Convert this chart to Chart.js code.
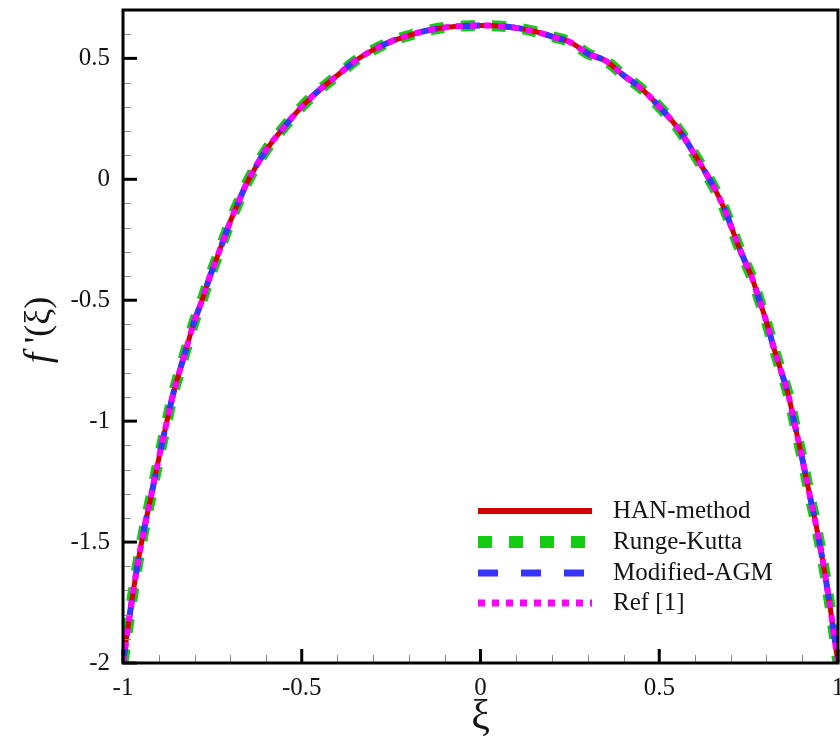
<!DOCTYPE html>
<html>
<head>
<meta charset="utf-8">
<script src="https://cdn.jsdelivr.net/npm/chart.js@4.4.1/dist/chart.umd.min.js"></script>
<style>
  html, body { margin: 0; padding: 0; background: #fff; }
  #wrap { width: 840px; height: 745px; }
</style>
</head>
<body>
<div id="wrap"><canvas id="chart" width="840" height="745"></canvas></div>
<script>
// --- data ---
const xi = [-1, -0.98, -0.96, -0.94, -0.92, -0.9, -0.88, -0.86, -0.84, -0.82, -0.8, -0.78, -0.76, -0.74, -0.72, -0.7, -0.68, -0.65,
            -0.6, -0.55, -0.5, -0.45, -0.4, -0.35, -0.3, -0.25, -0.2, -0.15, -0.1, -0.05, 0,
            0.05, 0.1, 0.15, 0.2, 0.25, 0.3, 0.35, 0.4, 0.45, 0.5, 0.55, 0.6,
            0.65, 0.68, 0.7, 0.72, 0.74, 0.76, 0.78, 0.8, 0.82, 0.84, 0.86, 0.88, 0.9, 0.92, 0.94, 0.96, 0.98, 1];
const fPrime = [-2.0, -1.79, -1.6, -1.44, -1.3, -1.155, -1.02, -0.89, -0.785, -0.685, -0.585, -0.505, -0.415, -0.335, -0.255, -0.175, -0.105, -0.005,
                0.12, 0.215, 0.3, 0.37, 0.43, 0.49, 0.535, 0.57, 0.595, 0.615, 0.628, 0.634, 0.636,
                0.634, 0.626, 0.612, 0.59, 0.568, 0.52, 0.49, 0.43, 0.375, 0.3, 0.215, 0.1,
                -0.025, -0.115, -0.19, -0.27, -0.34, -0.41, -0.5, -0.59, -0.695, -0.79, -0.885, -1.02, -1.155, -1.3, -1.44, -1.6, -1.79, -2.0];
// the four methods overlap on the plot
const hanMethod = fPrime;
const rungeKutta = fPrime;
const modifiedAgm = fPrime;
const ref1 = fPrime;

const seriesNames = ['HAN-method', 'Runge-Kutta', 'Modified-AGM', 'Ref [1]'];
const xTicks = [-1, -0.5, 0, 0.5, 1];
const yTicks = [-2, -1.5, -1, -0.5, 0, 0.5];

const COLORS = {
    han: '#d40000',
    rk: '#14cc14',
    agm: '#3535ff',
    ref: '#ff00ff',
    axis: '#000000',
    text: '#141414'
};
const STYLES = [
    { color: COLORS.rk,  width: 11, dash: [14, 17] },
    { color: COLORS.han, width: 5,  dash: [] },
    { color: COLORS.agm, width: 6,  dash: [20, 23] },
    { color: COLORS.ref, width: 6,  dash: [7, 7] }
];
const SERIF = '"Liberation Serif", "DejaVu Serif", serif';

const toPoints = (ys) => xi.map((x, i) => ({ x, y: ys[i] }));

// frame, inward ticks, legend and y-title
const decorations = {
    id: 'decorations',
    afterDatasetsDraw(chart) {
        const { ctx, chartArea: a, scales: { x, y } } = chart;
        ctx.save();
        // minor ticks
        ctx.strokeStyle = '#8a8a8a';
        ctx.lineWidth = 1;
        for (let v = -1; v <= 1.0001; v += 0.1) {
            const px = Math.round(x.getPixelForValue(v)) + 0.5;
            ctx.beginPath(); ctx.moveTo(px, a.bottom); ctx.lineTo(px, a.bottom - 8); ctx.stroke();
        }
        for (let v = -2; v <= 0.7001; v += 0.1) {
            const py = Math.round(y.getPixelForValue(v)) + 0.5;
            ctx.beginPath(); ctx.moveTo(a.left, py); ctx.lineTo(a.left + 8, py); ctx.stroke();
        }
        // major ticks
        ctx.strokeStyle = COLORS.axis;
        ctx.lineWidth = 3;
        xTicks.forEach(v => {
            const px = x.getPixelForValue(v);
            ctx.beginPath(); ctx.moveTo(px, a.bottom); ctx.lineTo(px, a.bottom - 14); ctx.stroke();
        });
        yTicks.forEach(v => {
            const py = y.getPixelForValue(v);
            ctx.beginPath(); ctx.moveTo(a.left, py); ctx.lineTo(a.left + 14, py); ctx.stroke();
        });
        // frame
        ctx.lineWidth = 3;
        ctx.strokeRect(a.left, a.top, a.right - a.left, a.bottom - a.top);

        // legend
        const lx0 = 478, lx1 = 592, rows = [511, 542, 573, 603];
        const legendStyles = [STYLES[1], STYLES[0], STYLES[2], STYLES[3]];
        legendStyles.forEach((s, i) => {
            ctx.beginPath();
            ctx.strokeStyle = s.color;
            ctx.lineWidth = s.width + 1;
            ctx.lineCap = 'butt';
            ctx.setLineDash(s.dash);
            ctx.moveTo(lx0, rows[i]); ctx.lineTo(lx1, rows[i]);
            ctx.stroke();
        });
        ctx.setLineDash([]);
        ctx.fillStyle = COLORS.text;
        ctx.font = '25px ' + SERIF;
        ctx.textAlign = 'left';
        ctx.textBaseline = 'middle';
        seriesNames.forEach((name, i) => ctx.fillText(name, 613, rows[i]));

        // y title: f '(ξ)
        ctx.translate(40, 330);
        ctx.rotate(-Math.PI / 2);
        const italic = 'italic 38px ' + SERIF;
        const normal = '36px ' + SERIF;
        ctx.font = italic;
        const w1 = ctx.measureText('f ').width;
        ctx.font = normal;
        const w2 = ctx.measureText("'(ξ)").width;
        let tx = -(w1 + w2) / 2;
        ctx.textBaseline = 'middle';
        ctx.font = italic;
        ctx.fillText('f ', tx, 0);
        ctx.font = normal;
        ctx.fillText("'(ξ)", tx + w1, 0);
        ctx.restore();
    }
};

const datasets = [
    { label: seriesNames[3], data: toPoints(ref1), order: 0, style: STYLES[3] },
    { label: seriesNames[2], data: toPoints(modifiedAgm), order: 1, style: STYLES[2] },
    { label: seriesNames[0], data: toPoints(hanMethod), order: 2, style: STYLES[1] },
    { label: seriesNames[1], data: toPoints(rungeKutta), order: 3, style: STYLES[0] }
].map(d => ({
    label: d.label,
    data: d.data,
    order: d.order,
    borderColor: d.style.color,
    backgroundColor: d.style.color,
    borderWidth: d.style.width,
    borderDash: d.style.dash,
    borderCapStyle: 'butt',
    pointRadius: 0,
    tension: 0.35,
    fill: false
}));

new Chart(document.getElementById('chart').getContext('2d'), {
    type: 'line',
    data: { datasets },
    plugins: [decorations],
    options: {
        responsive: false,
        animation: false,
        layout: { padding: { top: 10, right: 2, left: 0, bottom: 0 } },
        plugins: { legend: { display: false }, tooltip: { enabled: false } },
        scales: {
            x: {
                type: 'linear',
                min: -1, max: 1,
                grid: { display: false },
                border: { display: false },
                afterBuildTicks: (s) => { s.ticks = xTicks.map(v => ({ value: v })); },
                afterFit: (s) => { s.height = 82; s.paddingLeft = 0; s.paddingRight = 0; },
                ticks: {
                    color: COLORS.text,
                    font: { family: SERIF, size: 25 },
                    padding: 2,
                    maxRotation: 0,
                    callback: (v) => String(v)
                },
                title: {
                    display: true,
                    text: 'ξ',
                    color: COLORS.text,
                    font: { family: SERIF, size: 42 },
                    padding: { top: 0, bottom: 2 }
                }
            },
            y: {
                min: -2, max: 0.7,
                grid: { display: false },
                border: { display: false },
                afterBuildTicks: (s) => { s.ticks = yTicks.map(v => ({ value: v })); },
                afterFit: (s) => { s.width = 123; s.paddingTop = 0; s.paddingBottom = 0; },
                ticks: {
                    color: COLORS.text,
                    font: { family: SERIF, size: 25 },
                    padding: 5,
                    callback: (v) => String(v)
                }
            }
        }
    }
});
</script>
</body>
</html>
